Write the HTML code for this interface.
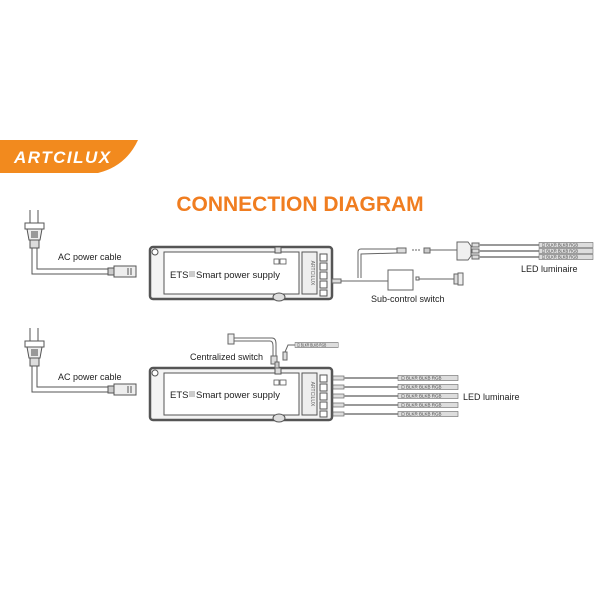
<!DOCTYPE html>
<html><head><meta charset="utf-8"><style>
body{margin:0;background:#fff}
svg{display:block}
text{font-family:"Liberation Sans",sans-serif}
</style></head><body>
<svg width="600" height="600" viewBox="0 0 600 600" xmlns="http://www.w3.org/2000/svg">
<defs>
<g id="plug" fill="none" stroke="#555" stroke-width="1">
  <line x1="30" y1="0" x2="30" y2="13"/><line x1="38" y1="0" x2="38" y2="13"/>
  <rect x="25" y="13" width="19" height="6" fill="#fff"/>
  <path d="M27 19 L42 19 L40 30 L29 30 Z" fill="#eee"/>
  <rect x="31" y="21" width="7" height="7" fill="#999" stroke="none"/>
  <rect x="30" y="30" width="9" height="8" fill="#ddd"/>
  <path d="M32 38 L32 64 L108 64 M37 38 L37 59 L108 59" />
  <rect x="108" y="58" width="6" height="7" fill="#ccc"/>
  <rect x="114" y="56" width="22" height="11" fill="#eee"/>
  <line x1="128" y1="58" x2="128" y2="65"/><line x1="131" y1="58" x2="131" y2="65"/>
</g>
<g id="psu" fill="none" stroke="#555">
  <rect x="150" y="0" width="182" height="52" rx="3" stroke-width="2.5" fill="#f4f4f4"/>
  <rect x="164" y="5" width="135" height="42" fill="#fff" stroke-width="1"/>
  <rect x="302" y="5" width="15" height="42" fill="#eee" stroke-width="1"/>
  <text x="311" y="26" font-size="5" fill="#666" stroke="none" text-anchor="middle" transform="rotate(90 311 26)">ARTCILUX</text>
  <circle cx="155" cy="5" r="3" fill="#fff"/>
  <rect x="275" y="0" width="6" height="6" fill="#ddd"/>
  <ellipse cx="279" cy="50" rx="6" ry="4" fill="#ddd"/>
  <rect x="274" y="12" width="5" height="5" stroke-width="0.8"/><rect x="280" y="12" width="6" height="5" stroke-width="0.8"/>
  <g stroke-width="1" fill="#fff">
   <rect x="320" y="7" width="7" height="7"/><rect x="320" y="16" width="7" height="7"/><rect x="320" y="25" width="7" height="7"/><rect x="320" y="34" width="7" height="7"/><rect x="320" y="43" width="7" height="6"/>
  </g>
</g>
<g id="strip">
  <rect x="0" y="-2.5" width="60" height="5" fill="#ddd" stroke="#666" stroke-width="0.6"/>
  <text x="3" y="1.7" font-size="4.5" fill="#444">⊡ BLKR BLKB RGB</text>
</g>
<g id="row">
  <rect x="333" y="-2" width="11" height="4" fill="#ddd" stroke="#666" stroke-width="0.7"/>
  <line x1="344" y1="0" x2="398" y2="0" stroke="#999" stroke-width="2"/>
</g>
</defs>

<!-- logo -->
<path d="M0 140 L138 140 Q126 166 98 173 L0 173 Z" fill="#f28a1e"/>
<text x="14" y="163" font-size="17" font-style="italic" font-weight="bold" fill="#fff" letter-spacing="1.5">ARTCILUX</text>

<text x="300" y="211" font-size="21" font-weight="bold" fill="#f07d20" text-anchor="middle">CONNECTION DIAGRAM</text>

<!-- top diagram -->
<use href="#plug" transform="translate(0,210)"/>
<text x="58" y="260" font-size="9" fill="#222">AC power cable</text>
<use href="#psu" transform="translate(0,247)"/>
<text x="170" y="278" font-size="9.5" fill="#222">ETS</text><rect x="189" y="271" width="6" height="6" fill="#ccc"/><text x="196" y="278" font-size="9.5" fill="#222">Smart power supply</text>

<g fill="none" stroke="#666" stroke-width="1">
  <rect x="332" y="279" width="9" height="4" fill="#ddd"/>
  <path d="M341 281 L388 281"/>
  <path d="M358 278 L358 252 Q358 249 361 249 L397 249"/>
  <path d="M361 278 L361 254 L397 253"/>
  <rect x="388" y="270" width="25" height="20" fill="#fff"/>
  <rect x="416" y="277" width="3" height="3"/>
  <path d="M419 279 L454 279"/>
  <rect x="454" y="274" width="4" height="10" fill="#ddd"/><rect x="458" y="273" width="5" height="12" fill="#eee"/>
  <rect x="397" y="248" width="9" height="5" fill="#ddd"/>
  <path d="M412 250 L420 250" stroke-dasharray="2 1"/>
  <rect x="424" y="248" width="6" height="5" fill="#ccc"/>
  <path d="M430 250 L457 250"/>
  <path d="M457 242 L468 242 L471 246 L471 256 L468 260 L457 260 Z" fill="#f0f0f0"/>
  <rect x="472" y="243" width="7" height="4" fill="#ddd"/><rect x="472" y="249" width="7" height="4" fill="#ddd"/><rect x="472" y="255" width="7" height="4" fill="#ddd"/>
</g>
<path d="M479 245 L539 245 M479 251 L539 251 M479 257 L539 257" stroke="#999" stroke-width="2"/>
<use href="#strip" transform="translate(539,245) scale(0.9,1)"/>
<use href="#strip" transform="translate(539,251) scale(0.9,1)"/>
<use href="#strip" transform="translate(539,257) scale(0.9,1)"/>
<text x="521" y="272" font-size="9" fill="#222">LED luminaire</text>
<text x="371" y="302" font-size="9" fill="#222">Sub-control switch</text>

<!-- bottom diagram -->
<use href="#plug" transform="translate(0,328)"/>
<text x="58" y="380" font-size="9" fill="#222">AC power cable</text>
<use href="#psu" transform="translate(0,368)"/>
<text x="170" y="398" font-size="9.5" fill="#222">ETS</text><rect x="189" y="391" width="6" height="6" fill="#ccc"/><text x="196" y="398" font-size="9.5" fill="#222">Smart power supply</text>

<g fill="none" stroke="#666" stroke-width="1">
  <rect x="228" y="334" width="6" height="10" fill="#eee"/>
  <path d="M234 338 L272 338 Q276 338 276 344 L276 356 M234 341 L270 341 Q273 341 273 346 L273 356"/>
  <rect x="271" y="356" width="6" height="8" fill="#ddd"/>
  <rect x="275" y="362" width="4" height="6" fill="#ccc"/>
  <rect x="283" y="352" width="4" height="8" fill="#ddd"/>
  <path d="M285 352 L288 345 L295 345"/>
</g>
<use href="#strip" transform="translate(295,345) scale(0.72,1)"/>
<text x="190" y="360" font-size="9" fill="#222">Centralized switch</text>

<use href="#row" transform="translate(0,378)"/><use href="#row" transform="translate(0,387)"/><use href="#row" transform="translate(0,396)"/><use href="#row" transform="translate(0,405)"/><use href="#row" transform="translate(0,414)"/>
<use href="#strip" transform="translate(398,378)"/><use href="#strip" transform="translate(398,387)"/><use href="#strip" transform="translate(398,396)"/><use href="#strip" transform="translate(398,405)"/><use href="#strip" transform="translate(398,414)"/>
<text x="463" y="400" font-size="9" fill="#222">LED luminaire</text>
</svg>
</body></html>
